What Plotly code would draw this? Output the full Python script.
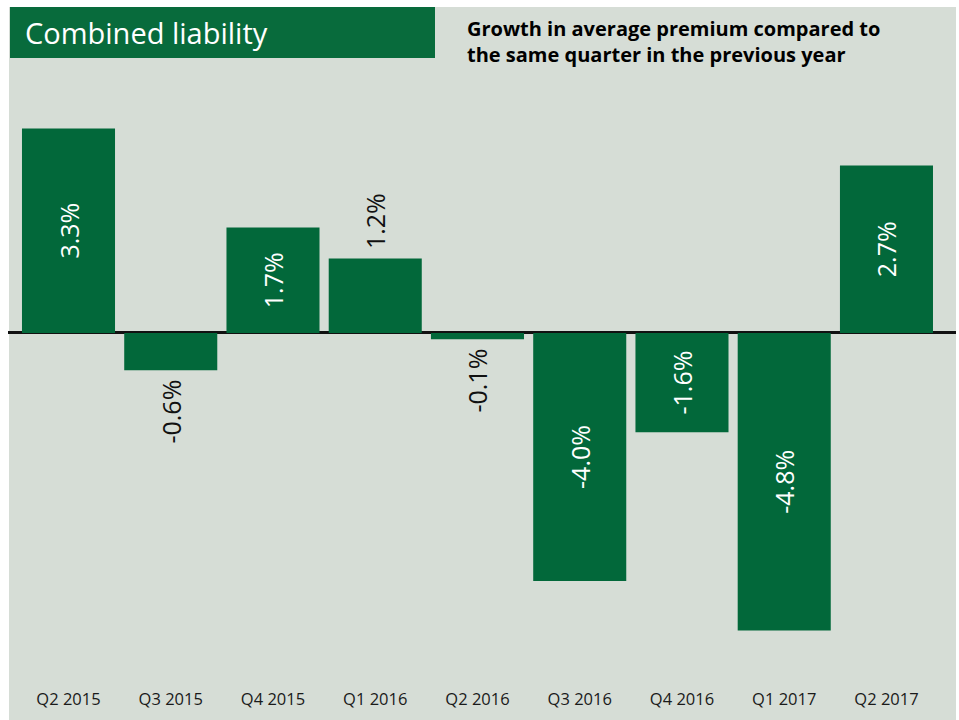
import plotly.graph_objects as go

quarters = ["Q2 2015", "Q3 2015", "Q4 2015", "Q1 2016", "Q2 2016",
            "Q3 2016", "Q4 2016", "Q1 2017", "Q2 2017"]
growth = [3.3, -0.6, 1.7, 1.2, -0.1, -4.0, -1.6, -4.8, 2.7]
label_inside = [True, False, True, False, False, True, True, True, True]

title_text = "Combined liability"
subtitle_text = "Growth in average premium compared to<br>the same quarter in the previous year"

BAR = "#02683a"
BOX = "#086b3c"
PANEL = "#d6ddd6"
W, H = 959, 720
L, R, T, B = 8, 3, 7, 33
PW, PH = W - L - R, H - T - B

def px_x(p):
    return (p - L) / PW

def px_y(p):
    return (H - B - p) / PH

NB = "\u00a0"
texts, positions = [], []
for v, ins in zip(growth, label_inside):
    s = f"{v:.1f}%"
    if ins:
        texts.append(s)
        positions.append("inside")
    else:
        texts.append(NB + s if v > 0 else s + NB)
        positions.append("outside")

fig = go.Figure()
fig.add_trace(go.Bar(
    x=list(range(len(quarters))),
    y=growth,
    marker=dict(color=BAR, line=dict(width=0)),
    text=texts,
    textposition=positions,
    textangle=-90,
    insidetextanchor="middle",
    insidetextfont=dict(family="Open Sans", size=25, color="white"),
    outsidetextfont=dict(family="Open Sans", size=25, color="#111111"),
    cliponaxis=False,
    hoverinfo="skip",
))

fig.update_layout(
    width=W, height=H,
    margin=dict(l=L, r=R, t=T, b=B, pad=0),
    paper_bgcolor="white",
    plot_bgcolor="rgba(0,0,0,0)",
    showlegend=False,
    bargap=0.09,
    xaxis=dict(
        range=[-0.5917, 8.680],
        tickmode="array",
        tickvals=list(range(len(quarters))),
        ticktext=quarters,
        showgrid=False, zeroline=False, showline=False, ticks="",
        tickfont=dict(family="Open Sans", size=16.5, color="#1a1a1a"),
        fixedrange=True,
    ),
    yaxis=dict(
        range=[-5.710, 5.258],
        showgrid=False, showticklabels=False, ticks="", showline=False,
        zeroline=True, zerolinecolor="#111111", zerolinewidth=2.5,
        fixedrange=True,
    ),
    shapes=[
        dict(type="rect", xref="paper", yref="paper", layer="below",
             x0=px_x(9), x1=px_x(956), y0=px_y(720), y1=px_y(7),
             fillcolor=PANEL, line=dict(width=0)),
        dict(type="rect", xref="paper", yref="paper", layer="above",
             x0=px_x(10), x1=px_x(435), y0=px_y(58), y1=px_y(7),
             fillcolor=BOX, line=dict(width=0)),
    ],
    annotations=[
        dict(text=title_text, xref="paper", yref="paper",
             x=px_x(23), y=px_y(33), xanchor="left", yanchor="middle",
             showarrow=False, font=dict(family="Open Sans", size=29, color="white")),
        dict(text="<b>" + subtitle_text + "</b>", xref="paper", yref="paper",
             x=px_x(465), y=px_y(13), xanchor="left", yanchor="top", align="left",
             showarrow=False, font=dict(family="Open Sans", size=20, color="black")),
    ],
)

fig.write_html("out.html")
